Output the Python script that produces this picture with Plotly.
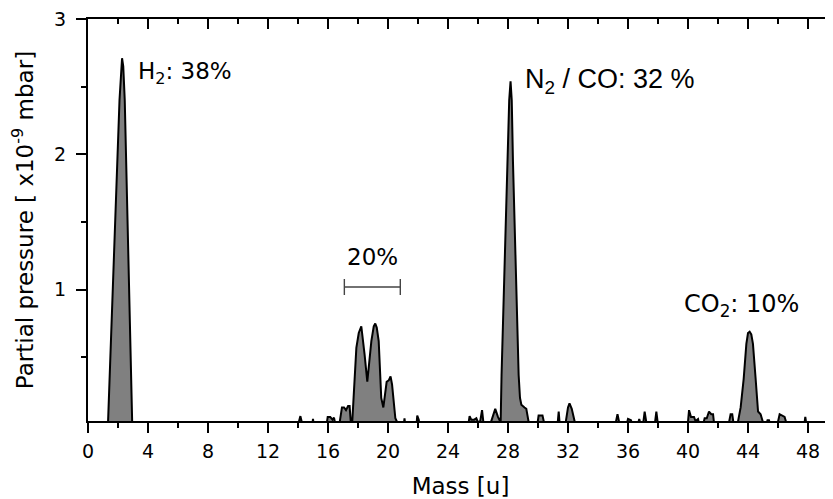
import plotly.graph_objects as go

# ---- data ----
mass = [0.5, 1.33, 2.1, 2.2, 2.27, 2.35, 2.45, 2.95,
        14.0, 14.16, 14.3, 14.95, 15.0, 15.05,
        15.9, 15.98, 16.15, 16.3, 16.4, 16.5,
        16.75, 16.93, 17.07, 17.2, 17.34, 17.44, 17.52, 17.62,
        17.89, 18.05, 18.22, 18.44, 18.62, 18.89, 19.05, 19.15, 19.25, 19.38,
        19.55, 19.69, 19.91, 20.05, 20.17, 20.27, 20.49, 20.62, 20.8,
        21.05, 21.1, 21.15, 21.9, 21.95, 22.05, 22.1,
        25.35, 25.44, 25.55, 25.75, 25.89, 26.0, 26.15, 26.27, 26.38,
        26.8, 26.95, 27.15, 27.33, 27.45, 27.51,
        27.57, 27.78, 27.95, 28.08, 28.17, 28.25, 28.33, 28.49, 28.71, 28.8,
        28.89, 29.1, 29.22, 29.38, 29.45,
        29.95, 30.04, 30.3, 30.44, 31.3, 31.38, 31.45,
        31.82, 32.0, 32.1, 32.25, 32.5,
        35.15, 35.3, 35.45, 35.9, 36.0, 36.2, 36.3, 36.65, 36.75, 36.85,
        37.0, 37.11, 37.25, 37.78, 37.89, 38.0,
        39.98, 40.07, 40.2, 40.4, 40.5, 40.67, 40.75,
        41.0, 41.11, 41.25, 41.4, 41.55, 41.67, 41.75,
        42.7, 42.84, 42.95, 43.05,
        43.29, 43.51, 43.71, 43.89, 44.0, 44.11, 44.22, 44.33, 44.51, 44.67,
        44.84, 45.0, 45.2, 45.3, 45.4, 45.5,
        45.95, 46.11, 46.44, 46.6, 47.75, 47.82, 47.9,
        49.4, 49.5, 49.6, 50.0]
pressure = [0.0, 0.0, 2.4, 2.65, 2.71, 2.65, 2.4, 0.0,
            0.0, 0.066, 0.0, 0.0, 0.045, 0.0,
            0.0, 0.06, 0.06, 0.04, 0.055, 0.0,
            0.0, 0.13, 0.13, 0.11, 0.14, 0.14, 0.02, 0.03,
            0.57, 0.68, 0.73, 0.52, 0.32, 0.62, 0.73, 0.75, 0.72, 0.62,
            0.2, 0.13, 0.32, 0.33, 0.36, 0.3, 0.05, 0.02, 0.0,
            0.0, 0.05, 0.0, 0.0, 0.07, 0.04, 0.0,
            0.0, 0.066, 0.04, 0.04, 0.05, 0.02, 0.03, 0.11, 0.0,
            0.0, 0.06, 0.12, 0.06, 0.04, 0.02,
            0.37, 1.21, 1.95, 2.4, 2.54, 2.4, 1.95, 1.21, 0.37, 0.2,
            0.15, 0.13, 0.12, 0.02, 0.0,
            0.0, 0.07, 0.07, 0.0, 0.0, 0.1, 0.0,
            0.0, 0.13, 0.16, 0.12, 0.0,
            0.0, 0.08, 0.0, 0.0, 0.045, 0.035, 0.0, 0.0, 0.045, 0.0,
            0.0, 0.1, 0.0, 0.0, 0.1, 0.0,
            0.0, 0.11, 0.06, 0.06, 0.03, 0.045, 0.0,
            0.0, 0.05, 0.05, 0.1, 0.08, 0.08, 0.0,
            0.0, 0.08, 0.08, 0.0,
            0.0, 0.13, 0.34, 0.6, 0.68, 0.69, 0.67, 0.6, 0.34, 0.1,
            0.08, 0.02, 0.0, 0.035, 0.035, 0.0,
            0.0, 0.08, 0.06, 0.0, 0.0, 0.06, 0.0,
            0.0, 0.07, 0.0, 0.0]

water_range = [17.09, 20.82]
water_level = 1.02

labels = [
    dict(text="H<sub>2</sub>: 38%", x=3.2, y=2.6, font="DejaVu Sans", size=23),
    dict(text="N<sub>2</sub> / CO: 32 %", x=29.0, y=2.54, font="Liberation Sans", size=27),
    dict(text="CO<sub>2</sub>: 10%", x=39.6, y=0.88, font="DejaVu Sans", size=24),
]
water_label = "20%"

# page body has an 8px margin: figure is 825x491 so the plot ends at the window edge
FIG_W, FIG_H = 825, 491
x_max = (FIG_W - 80) / 15.0
y_range = [0.03, 3.0]

fig = go.Figure()
fig.add_trace(go.Scatter(
    x=mass, y=pressure, mode="lines", fill="tozeroy",
    fillcolor="#808080", line=dict(color="black", width=2),
    hoverinfo="skip", showlegend=False))

w_center = (water_range[0] + water_range[1]) / 2
w_half = (water_range[1] - water_range[0]) / 2
fig.add_trace(go.Scatter(
    x=[w_center], y=[water_level], mode="markers",
    marker=dict(size=1, opacity=0),
    error_x=dict(type="data", array=[w_half], color="#444444", thickness=1.4, width=8),
    xaxis="x2", yaxis="y2", showlegend=False, hoverinfo="skip"))

annotations = []
for lab in labels:
    annotations.append(dict(text=lab["text"], x=lab["x"], y=lab["y"], xref="x", yref="y",
                            xanchor="left", yanchor="middle", showarrow=False,
                            font=dict(family=lab["font"], size=lab["size"], color="black")))
annotations.append(dict(text=water_label, x=w_center, y=1.24, xref="x", yref="y",
                        xanchor="center", yanchor="middle", showarrow=False,
                        font=dict(family="DejaVu Sans", size=23, color="black")))

axis_common = dict(showgrid=False, zeroline=False, linecolor="black", linewidth=2,
                   tickcolor="black", tickwidth=2, automargin=False)

fig.update_layout(
    width=FIG_W, height=FIG_H,
    margin=dict(l=80, r=0, t=11, b=78, pad=0),
    paper_bgcolor="white", plot_bgcolor="white",
    font=dict(family="DejaVu Sans", color="black"),
    xaxis=dict(range=[0, x_max], tickmode="linear", tick0=0, dtick=4,
               ticks="outside", ticklen=10, showline=True, ticklabelstandoff=2,
               ticklabeloverflow="allow",
               minor=dict(dtick=2, ticks="outside", ticklen=5, tickwidth=2, tickcolor="black"),
               tickfont=dict(size=19, family="DejaVu Sans"),
               title=dict(text="Mass [u]", font=dict(size=23, family="DejaVu Sans"), standoff=17),
               **axis_common),
    xaxis2=dict(range=[0, x_max], overlaying="x", side="top", anchor="y",
                tickmode="linear", tick0=0, dtick=4, ticks="inside", ticklen=10,
                showticklabels=False, showline=True,
                minor=dict(dtick=2, ticks="inside", ticklen=5, tickwidth=2, tickcolor="black"),
                **axis_common),
    yaxis=dict(range=y_range, tickmode="linear", tick0=0, dtick=1,
               ticks="outside", ticklen=10, showline=True, ticklabelstandoff=6,
               ticklabeloverflow="allow",
               minor=dict(dtick=0.5, ticks="outside", ticklen=5, tickwidth=2, tickcolor="black"),
               tickfont=dict(size=19, family="DejaVu Sans"),
               title=dict(text="Partial pressure [ x10<sup>-9</sup> mbar]",
                          font=dict(size=23, family="DejaVu Sans"), standoff=22),
               **axis_common),
    yaxis2=dict(range=y_range, overlaying="y", side="right", anchor="x",
                tickmode="linear", tick0=0, dtick=1, ticks="inside", ticklen=6,
                showticklabels=False, showline=False,
                minor=dict(dtick=0.5, ticks="inside", ticklen=2, tickwidth=2, tickcolor="black"),
                **axis_common),
    annotations=annotations,
)

fig.write_html("out.html")
